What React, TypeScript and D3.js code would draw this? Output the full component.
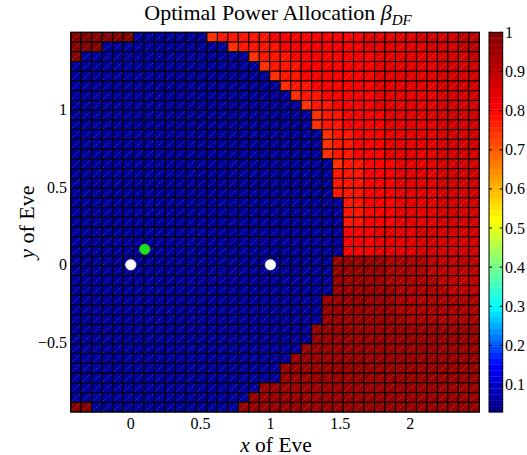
import React from "react";
import * as d3 from "d3";

const W = 527;
const H = 455;

// axis extents and ticks
const xExtent = [-0.43, 2.495];
const yExtent = [-0.95, 1.5];
const xTicks = [0, 0.5, 1, 1.5, 2];
const yTicks = [-0.5, 0, 0.5, 1];
const cbarExtent = [0.03, 1];
const cbarTicks = [0.1, 0.2, 0.3, 0.4, 0.5, 0.6, 0.7, 0.8, 0.9, 1];

// jet-like colour map as seen on the colour bar
const cmapStops = [0.03, 0.15, 0.3, 0.52, 0.8, 1];
const cmapColors = ["#000080", "#0000ff", "#00ffff", "#ffff00", "#ff0000", "#800000"];

// codes used in the grid below and the beta value each one stands for
const levelCodes = ["b", "o", "r", "s", "t", "u", "v", "w", "x", "y"];
const levelValues = [0.05, 0.75, 0.78, 0.81, 0.84, 0.87, 0.9, 0.93, 0.96, 0.985];

// 39 x 39 cells, top row first, run-length coded (code + count)
const gridRows = [
    "y6 b7 o1 r5 s9 t5 u4 v2",
    "y3 b12 o1 r4 s8 t6 u3 v2",
    "y1 b16 o1 r3 s8 t6 u3 v1",
    "b18 o1 r3 s7 t6 u4",
    "b19 o1 r2 s7 t6 u4",
    "b20 o1 r2 s6 t6 u4",
    "b21 o1 r2 s5 t6 u4",
    "b22 o1 r2 s4 t6 u4",
    "b23 o1 r2 s4 t5 u4",
    "b23 o1 r2 s4 t5 u4",
    "b24 o1 r2 s3 t5 u4",
    "b24 o1 r2 s3 t5 u4",
    "b24 o1 r2 s3 t5 u4",
    "b25 o1 r2 s3 t4 u4",
    "b25 r3 s3 t4 u4",
    "b25 r3 s3 t4 u4",
    "b25 r3 s3 t4 u4",
    "b26 r2 s3 t4 u4",
    "b26 r2 s3 t4 u4",
    "b26 r2 s3 t4 u4",
    "b26 s3 t4 u6",
    "b26 s3 t4 u6",
    "b26 s3 t4 u6",
    "b25 x5 w4 v5",
    "b25 x5 w4 v5",
    "b25 x5 w5 v4",
    "b25 x6 w5 v3",
    "b24 x7 w8",
    "b24 x7 w8",
    "b24 x8 w7",
    "b23 x16",
    "b23 x16",
    "b22 x17",
    "b21 x18",
    "b20 x19",
    "b20 x19",
    "b18 x21",
    "b17 x22",
    "y2 b14 x23"
];

// node positions: Alice, Bob (white) and relay (green)
const nodeX = [0, 1, 0.1];
const nodeY = [0, 0, 0.1];
const nodeFill = ["#ffffff", "#ffffff", "#1fe01f"];

const FONT = "'Liberation Serif', 'Times New Roman', serif";

const decodeRow = (row: string) =>
    row.split(" ").flatMap(tok => Array(+tok.slice(1)).fill(tok[0]));

const cells = gridRows.map(decodeRow);
const nCols = cells[0].length;
const nRows = cells.length;

const plot = { left: 70.7, right: 479.3, top: 32.3, bottom: 412 };
const cbar = { left: 489, right: 502.7 };

const x = d3.scaleLinear().domain(xExtent).range([plot.left, plot.right]);
const y = d3.scaleLinear().domain(yExtent).range([plot.bottom, plot.top]);
const cy = d3.scaleLinear().domain(cbarExtent).range([plot.bottom, plot.top]);

const jet = d3
    .scaleLinear<string>()
    .domain(cmapStops)
    .range(cmapColors)
    .interpolate(d3.interpolateRgb)
    .clamp(true);

// MATLAB picks one of 64 colours for each value
const NCOL = 64;
const step = (cbarExtent[1] - cbarExtent[0]) / NCOL;
const colorOf = (v: number) => {
    const k = Math.max(0, Math.min(NCOL - 1, Math.floor((v - cbarExtent[0]) / step)));
    return jet(cbarExtent[0] + (k + 0.5) * step);
};

const fmt = (v: number) => (v < 0 ? "\u2212" + Math.abs(v) : String(v));

export default function App() {
    const dx = (xExtent[1] - xExtent[0]) / nCols;
    const dy = (yExtent[1] - yExtent[0]) / nRows;

    return (
        <svg
            width={W}
            height={H}
            style={{ position: "absolute", left: 0, top: 0, background: "#fff" }}
            fontFamily={FONT}
        >
            <g className="cells">
                {cells.map((row, j) =>
                    row.map((code, i) => {
                        const v = levelValues[levelCodes.indexOf(code)];
                        const x0 = x(xExtent[0] + i * dx);
                        const x1 = x(xExtent[0] + (i + 1) * dx);
                        const y0 = y(yExtent[1] - j * dy);
                        const y1 = y(yExtent[1] - (j + 1) * dy);
                        return (
                            <g key={`${i}-${j}`}>
                                <rect
                                    x={x0}
                                    y={y0}
                                    width={x1 - x0}
                                    height={y1 - y0}
                                    fill={colorOf(v)}
                                    stroke="#000"
                                    strokeWidth={1}
                                />
                                <line
                                    x1={x0 + 1}
                                    y1={y1 - 1}
                                    x2={x1 - 1}
                                    y2={y0 + 1}
                                    stroke="rgba(255,255,255,0.35)"
                                    strokeWidth={0.8}
                                    strokeDasharray="1.2 1.2"
                                />
                            </g>
                        );
                    })
                )}
            </g>

            <rect
                x={plot.left}
                y={plot.top}
                width={plot.right - plot.left}
                height={plot.bottom - plot.top}
                fill="none"
                stroke="#000"
                strokeWidth={1}
            />

            {nodeX.map((nx, k) => (
                <circle
                    key={k}
                    cx={x(nx)}
                    cy={y(nodeY[k])}
                    r={5.3}
                    fill={nodeFill[k]}
                    stroke={k < 2 ? "#dfe6ff" : "#18c018"}
                    strokeWidth={0.6}
                />
            ))}

            {xTicks.map(t => (
                <text key={t} x={x(t)} y={428.5} fontSize={16} textAnchor="middle">
                    {fmt(t)}
                </text>
            ))}
            {yTicks.map(t => (
                <text key={t} x={67} y={y(t)} dy="0.35em" fontSize={16} textAnchor="end">
                    {fmt(t)}
                </text>
            ))}

            {/* colour bar */}
            <g className="colorbar">
                {d3.range(NCOL).map(k => (
                    <rect
                        key={k}
                        x={cbar.left}
                        y={cy(cbarExtent[0] + (k + 1) * step)}
                        width={cbar.right - cbar.left}
                        height={cy(cbarExtent[0]) - cy(cbarExtent[0] + step) + 0.3}
                        fill={jet(cbarExtent[0] + (k + 0.5) * step)}
                    />
                ))}
                <rect
                    x={cbar.left}
                    y={plot.top}
                    width={cbar.right - cbar.left}
                    height={plot.bottom - plot.top}
                    fill="none"
                    stroke="#000"
                    strokeWidth={1}
                />
                {cbarTicks.map(t => (
                    <g key={t}>
                        <line x1={cbar.right - 3} x2={cbar.right} y1={cy(t)} y2={cy(t)} stroke="#000" />
                        <line x1={cbar.left} x2={cbar.left + 3} y1={cy(t)} y2={cy(t)} stroke="#000" />
                        <text x={505} y={cy(t)} dy="0.35em" fontSize={16}>
                            {fmt(t)}
                        </text>
                    </g>
                ))}
            </g>

            <text x={278} y={20} fontSize={22} textAnchor="middle">
                Optimal Power Allocation <tspan fontStyle="italic">β</tspan>
                <tspan fontStyle="italic" fontSize={15} dy={5}>DF</tspan>
            </text>
            <text x={276} y={451.5} fontSize={21.5} textAnchor="middle">
                <tspan fontStyle="italic">x</tspan> of Eve
            </text>
            <text
                transform={`translate(34,${(plot.top + plot.bottom) / 2}) rotate(-90)`}
                fontSize={22}
                textAnchor="middle"
            >
                <tspan fontStyle="italic">y</tspan> of Eve
            </text>
        </svg>
    );
}
